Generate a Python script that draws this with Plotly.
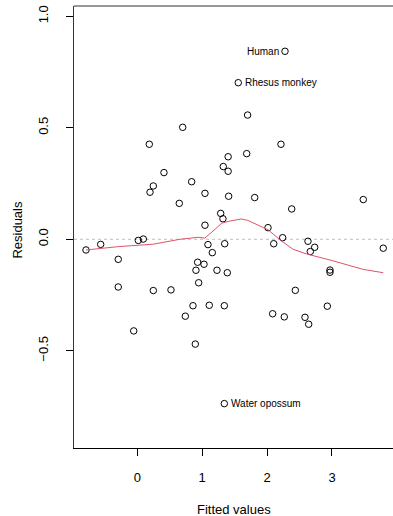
import plotly.graph_objects as go

# Fitted values and residuals of the linear model (62 observations)
fitted = [2.276, 1.556, 1.70, 0.70, 0.185, 2.214, 1.40, 1.686, 1.325, 1.40,
          0.411, 0.247, 0.196, 0.838, 1.043, 1.408, 1.809, 0.647, 3.482, 2.379,
          1.285, 1.32, 1.043, 2.014, 2.24, 0.093, 0.016, -0.564, -0.79, 1.089,
          1.347, 2.102, 2.63, 1.156, 2.733, 2.666, 3.79, -0.293, 0.93, 1.028,
          0.904, 1.228, 1.387, 2.969, 2.969, 0.946, -0.293, 0.247, 0.519, 2.435,
          0.858, 1.109, 1.341, 2.928, 0.74, 2.086, 2.265, 2.584, 2.641, -0.055,
          0.894, 1.341]
residuals = [0.843, 0.702, 0.557, 0.502, 0.426, 0.426, 0.370, 0.384, 0.326, 0.305,
             0.299, 0.239, 0.211, 0.258, 0.206, 0.193, 0.187, 0.161, 0.178, 0.136,
             0.116, 0.092, 0.063, 0.052, 0.007, 0.001, -0.005, -0.023, -0.048, -0.024,
             -0.020, -0.020, -0.009, -0.060, -0.036, -0.055, -0.040, -0.090, -0.103, -0.112,
             -0.139, -0.139, -0.150, -0.138, -0.148, -0.195, -0.214, -0.230, -0.227, -0.229,
             -0.298, -0.296, -0.298, -0.300, -0.345, -0.334, -0.348, -0.350, -0.381, -0.411,
             -0.470, -0.737]

# Lowess smooth of residuals on fitted values
smooth_x = [-0.79, -0.29, 0.25, 0.658, 0.94, 1.04, 1.2, 1.3, 1.4, 1.6, 1.7,
            2.018, 2.199, 2.40, 2.61, 2.969, 3.48, 3.79]
smooth_y = [-0.048, -0.033, -0.022, 0.0, 0.009, 0.005, 0.045, 0.072, 0.080, 0.091, 0.085,
            0.042, -0.003, -0.045, -0.066, -0.093, -0.135, -0.150]

# Labelled observations: name, index into the data, side of the label
labelled = [("Human", 0, "left"), ("Rhesus monkey", 1, "right"), ("Water opossum", 61, "right")]

y_ticks = [-0.5, 0.0, 0.5, 1.0]
y_tick_text = ["\u22120.5", "0.0", "0.5", "1.0"]
x_ticks = [0, 1, 2, 3]

FONT = "Liberation Sans, Arial, sans-serif"

fig = go.Figure()
fig.add_trace(go.Scatter(
    x=fitted, y=residuals, mode="markers",
    marker=dict(symbol="circle-open", size=6.5, color="black", line=dict(width=1, color="black")),
    showlegend=False, hoverinfo="skip"))
fig.add_trace(go.Scatter(
    x=smooth_x, y=smooth_y, mode="lines",
    line=dict(color="#DF536B", width=1), showlegend=False, hoverinfo="skip"))

annotations = []
for name, i, side in labelled:
    annotations.append(dict(
        x=fitted[i], y=residuals[i], xref="x", yref="y", text=name, showarrow=False,
        xanchor="right" if side == "left" else "left", yanchor="middle",
        xshift=-4.5 if side == "left" else 4.5,
        font=dict(family=FONT, size=10, color="black")))

annotations.append(dict(x=0.5, y=0, xref="paper", yref="paper", text="Fitted values",
                        showarrow=False, xanchor="center", yanchor="middle", yshift=-61,
                        font=dict(family=FONT, size=13, color="black")))
annotations.append(dict(x=0, y=0.493, xref="paper", yref="paper", text="Residuals",
                        showarrow=False, xanchor="center", yanchor="middle", xshift=-56.5,
                        textangle=-90, font=dict(family=FONT, size=13, color="black")))

shapes = [
    dict(type="line", xref="paper", yref="y", x0=0, x1=1, y0=0, y1=0,
         line=dict(color="#BEBEBE", width=1, dash="dot"), layer="below"),
    dict(type="line", xref="paper", yref="paper", x0=0, x1=1, y0=1, y1=1,
         line=dict(color="#333333", width=1)),
]

fig.update_layout(
    width=393, height=516,
    margin=dict(l=74, r=0, t=6, b=68),
    paper_bgcolor="white", plot_bgcolor="white",
    font=dict(family=FONT, size=13, color="black"),
    annotations=annotations, shapes=shapes,
    xaxis=dict(range=[-0.975, 3.94], tickvals=x_ticks, ticks="outside", ticklen=7,
               tickcolor="black", showline=True, linecolor="black", linewidth=1,
               showgrid=False, zeroline=False, ticklabelstandoff=10,
               tickfont=dict(family=FONT, size=13, color="black")),
    yaxis=dict(range=[-0.936, 1.046], tickvals=y_ticks, ticktext=y_tick_text,
               ticks="outside", ticklen=7, tickcolor="black", tickangle=-90,
               showline=True, linecolor="#333333", linewidth=1,
               showgrid=False, zeroline=False, ticklabelstandoff=13,
               tickfont=dict(family=FONT, size=13, color="black")),
)

fig.write_html("out.html")
